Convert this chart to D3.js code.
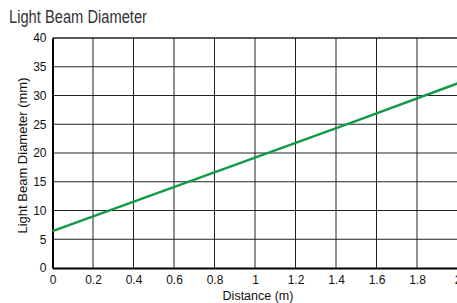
<!DOCTYPE html>
<html>
<head>
<meta charset="utf-8">
<script src="https://cdn.jsdelivr.net/npm/d3@7"></script>
<style>
  body { margin: 0; background: #fff; }
  svg { display: block; }
</style>
</head>
<body>
<div id="chart"></div>
<script>
// data
const distance = [0, 0.5, 1, 1.5, 2];
const diameter = [6.4, 12.8, 19.2, 25.6, 32.1];
const xTicks = [0, 0.2, 0.4, 0.6, 0.8, 1, 1.2, 1.4, 1.6, 1.8, 2];
const yTicks = [0, 5, 10, 15, 20, 25, 30, 35, 40];

const svgAttr = { width: 457, height: 303 };
const plot = { left: 52.5, right: 457.5, top: 38, bottom: 268 };
const lineColor = "#129a47";

const svg = d3.select("#chart")
  .append("svg")
  .attr("width", svgAttr.width)
  .attr("height", svgAttr.height);

const x = d3.scaleLinear().domain([0, 2]).range([plot.left, plot.right]);
const y = d3.scaleLinear().domain([0, 40]).range([plot.bottom, plot.top]);

// title (condensed look: squeeze to the measured width)
svg.append("text")
  .attr("x", 9)
  .attr("y", 23)
  .attr("font-family", "'Liberation Sans Narrow', 'Arial Narrow', 'Liberation Sans', sans-serif")
  .attr("font-size", 17.5)
  .attr("fill", "#333")
  .attr("textLength", 138)
  .attr("lengthAdjust", "spacingAndGlyphs")
  .text("Light Beam Diameter");

// grid
svg.append("g")
  .selectAll("line")
  .data(xTicks.slice(1))
  .join("line")
  .attr("x1", d => x(d)).attr("x2", d => x(d))
  .attr("y1", plot.top).attr("y2", plot.bottom)
  .attr("stroke", "#222").attr("stroke-width", 1);

svg.append("g")
  .selectAll("line")
  .data(yTicks.slice(1))
  .join("line")
  .attr("x1", plot.left).attr("x2", plot.right)
  .attr("y1", d => y(d)).attr("y2", d => y(d))
  .attr("stroke", "#222").attr("stroke-width", d => d === 40 ? 1.5 : 1);

// axes
const xAxis = svg.append("g")
  .attr("transform", `translate(0,${plot.bottom})`)
  .call(d3.axisBottom(x).tickValues(xTicks).tickSize(0).tickPadding(7).tickFormat(d3.format("")));
const yAxis = svg.append("g")
  .attr("transform", `translate(${plot.left},0)`)
  .call(d3.axisLeft(y).tickValues(yTicks).tickSize(0).tickPadding(6));

[xAxis, yAxis].forEach(a => {
  a.select(".domain").attr("stroke", "#000").attr("stroke-width", 2);
  a.selectAll("text")
    .attr("font-family", "'Liberation Sans', Arial, sans-serif")
    .attr("font-size", 12)
    .attr("fill", "#111");
});

// axis titles
svg.append("text")
  .attr("x", 258)
  .attr("y", 300)
  .attr("text-anchor", "middle")
  .attr("font-family", "'Liberation Sans', Arial, sans-serif")
  .attr("font-size", 12.5)
  .attr("fill", "#111")
  .text("Distance (m)");

svg.append("text")
  .attr("transform", "translate(27,155.5) rotate(-90)")
  .attr("text-anchor", "middle")
  .attr("font-family", "'Liberation Sans', Arial, sans-serif")
  .attr("font-size", 13)
  .attr("fill", "#111")
  .text("Light Beam Diameter (mm)");

// beam line
const line = d3.line()
  .x((d, i) => x(distance[i]))
  .y(d => y(d));

svg.append("path")
  .attr("d", line(diameter))
  .attr("fill", "none")
  .attr("stroke", lineColor)
  .attr("stroke-width", 2.5);
</script>
</body>
</html>
